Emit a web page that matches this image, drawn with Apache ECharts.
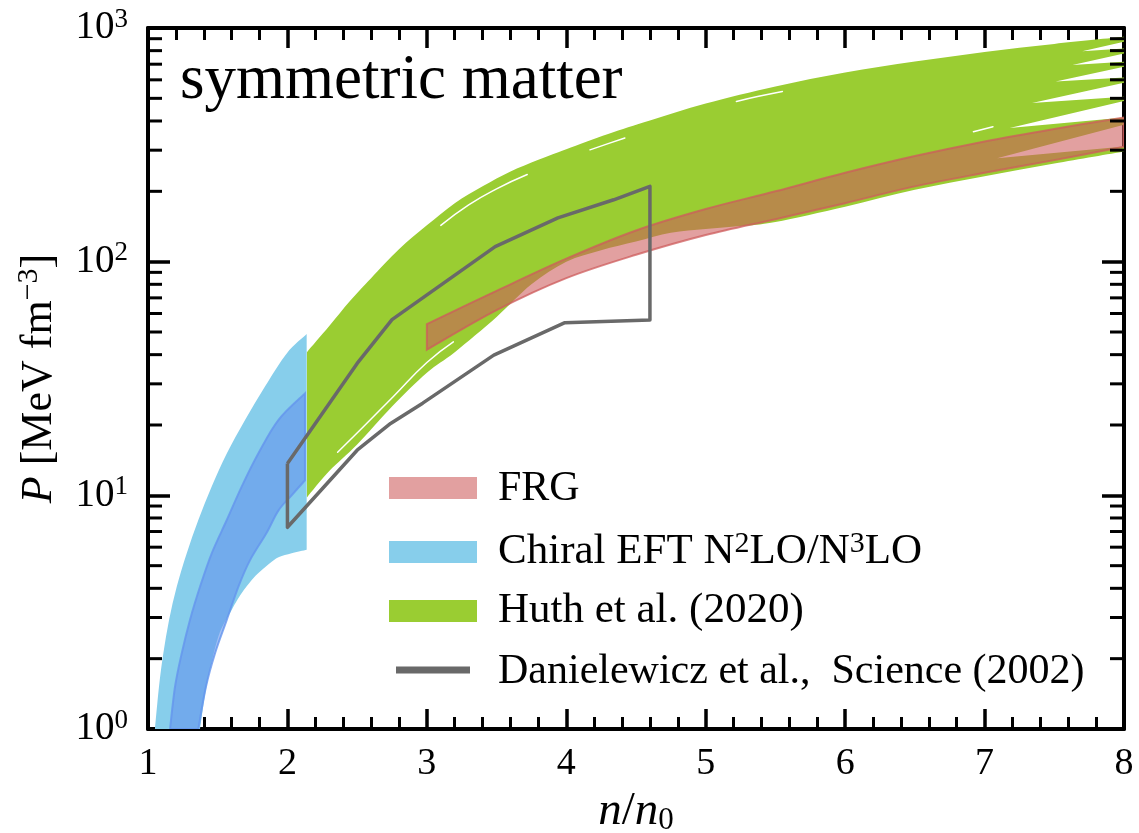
<!DOCTYPE html>
<html>
<head>
<meta charset="utf-8">
<script src="https://cdn.jsdelivr.net/npm/echarts@6/dist/echarts.min.js"></script>
<style>
  html, body { margin: 0; padding: 0; background: #ffffff; }
  #chart { width: 1139px; height: 833px; }
</style>
</head>
<body>
<div id="chart"></div>
<script>
// ---- axis ticks ----
const xTickValues = [1, 2, 3, 4, 5, 6, 7, 8];
const yMinorTicks = [2, 3, 4, 5, 6, 7, 8, 9, 20, 30, 40, 50, 60, 70, 80, 90,
                     200, 300, 400, 500, 600, 700, 800, 900];

// ---- Chiral EFT N2LO/N3LO: outer band [n/n0, P] ----
const chiralOuterUpper = [[1.05, 1.0], [1.079, 1.52], [1.11, 2.11], [1.151, 2.93], [1.206, 4.06],
  [1.278, 5.65], [1.361, 7.84], [1.457, 10.9], [1.565, 15.1], [1.696, 21], [1.839, 29.2],
  [1.995, 40.5], [2.138, 49]];
const chiralOuterLower = [[1.373, 1.0], [1.42, 1.52], [1.504, 2.48], [1.6, 3.23], [1.67, 3.8],
  [1.744, 4.34], [1.8, 4.7], [1.887, 5.2], [1.94, 5.45], [2.03, 5.65], [2.138, 5.85]];

// ---- Chiral EFT: inner band ----
const chiralInnerUpper = [[1.158, 1.0], [1.194, 1.52], [1.242, 2.11], [1.301, 2.93], [1.373, 4.06],
  [1.457, 5.65], [1.565, 7.84], [1.672, 10.9], [1.791, 15.1], [1.935, 21], [2.126, 27.3]];
const chiralInnerLower = [[1.361, 1.0], [1.416, 1.52], [1.481, 2.11], [1.565, 2.93], [1.648, 4.06],
  [1.732, 5.28], [1.85, 6.9], [1.935, 8.6], [2.03, 10.0], [2.126, 11.6]];

// ---- Huth et al. (2020) ----
const huthUpper = [[2.14, 41], [2.3, 53], [2.45, 68], [2.6, 85], [2.8, 113], [3.0, 143],
  [3.2, 178], [3.4, 210], [3.6, 243], [3.8, 273], [4.0, 303], [4.3, 352], [4.6, 402],
  [5.0, 475], [5.5, 562], [6.0, 645], [6.5, 718], [7.0, 790], [7.5, 855], [8.0, 917]];
// jagged ends of the individual curves at n/n0 = 8
const huthRightEnds = [[8, 873], [7.70, 795], [8, 817], [8, 778], [7.63, 695], [8, 717],
  [8, 682], [7.51, 590], [8, 614], [8, 583], [7.34, 477], [8, 508], [8, 487], [7.18, 373],
  [8, 414], [8, 385], [7.09, 277], [8, 311]];
const huthLower = [[2.14, 9.8], [2.3, 12.7], [2.5, 16.5], [2.75, 24], [3.0, 33.5], [3.2, 41],
  [3.5, 58], [3.75, 80], [4.0, 100], [4.25, 112], [4.5, 122], [4.75, 133], [5.0, 138],
  [5.25, 142], [5.5, 148], [6.0, 172], [6.5, 203], [7.0, 232], [7.5, 263], [8.0, 296]];
// thin gaps between neighbouring curves
const huthGaps = [
  [[2.36, 15.3], [2.55, 19.8], [2.76, 26.5], [3.0, 37], [3.19, 45.4]],
  [[3.1, 143], [3.3, 175], [3.5, 205], [3.72, 236]],
  [[4.17, 301], [4.3, 320], [4.42, 338]],
  [[5.22, 485], [5.38, 510], [5.55, 535]],
  [[6.92, 360], [7.06, 378]]
];

// ---- FRG ----
const frgUpper = [[3, 54], [3.5, 75], [4, 103], [4.5, 136], [5, 168], [5.5, 200], [6, 240],
  [6.5, 283], [7, 327], [7.5, 370], [8, 414]];
const frgLower = [[3, 42], [3.5, 62], [4, 85], [4.5, 107], [5, 130], [5.5, 152], [6, 178],
  [6.5, 210], [7, 240], [7.5, 272], [8, 310]];

// ---- Danielewicz et al., Science (2002): flow constraint contour ----
const danielewicz = [[2.0, 13.7], [2.5, 36.7], [2.75, 56.5], [3.49, 116], [3.94, 154],
  [4.34, 184], [4.6, 210], [4.6, 56.3], [3.99, 54.8], [3.48, 39.8], [2.97, 24.8],
  [2.74, 20.3], [2.5, 15.6], [2.0, 7.3], [2.0, 13.7]];

// ---- colours ----
const GREEN = '#9ACD32';
const SKY = '#87CEEB';
const INNER_BLUE = 'rgba(100,149,237,0.6)';
const FRG_FILL = 'rgba(205,92,92,0.58)';
const FRG_EDGE = 'rgba(205,92,92,0.75)';
const GREY = '#696969';

const SERIF = '"Liberation Serif", "DejaVu Serif", serif';

// Catmull-Rom curve through pixel points, as cubic Bezier path commands
function curveCommands(P) {
  let d = '';
  for (let i = 0; i < P.length - 1; i++) {
    const p0 = P[i - 1] || P[i], p1 = P[i], p2 = P[i + 1], p3 = P[i + 2] || P[i + 1];
    const c1x = p1[0] + (p2[0] - p0[0]) / 6, c1y = p1[1] + (p2[1] - p0[1]) / 6;
    const c2x = p2[0] - (p3[0] - p1[0]) / 6, c2y = p2[1] - (p3[1] - p1[1]) / 6;
    d += 'C' + c1x + ',' + c1y + ' ' + c2x + ',' + c2y + ' ' + p2[0] + ',' + p2[1];
  }
  return d;
}

// band: smooth upper edge (left to right), straight right-end segments, smooth lower edge back
function bandSeries(name, upper, right, lower, style, z) {
  return {
    type: 'custom',
    name: name,
    coordinateSystem: 'cartesian2d',
    xAxisIndex: 0,
    yAxisIndex: 0,
    clip: true,
    silent: true,
    z: z,
    data: [upper[0]],
    renderItem: function (params, api) {
      const U = upper.map(function (p) { return api.coord(p); });
      const R = right.map(function (p) { return api.coord(p); });
      const L = lower.slice().reverse().map(function (p) { return api.coord(p); });
      let d = 'M' + U[0][0] + ',' + U[0][1] + curveCommands(U);
      R.forEach(function (p) { d += 'L' + p[0] + ',' + p[1]; });
      d += 'L' + L[0][0] + ',' + L[0][1] + curveCommands(L) + 'Z';
      return { type: 'path', shape: { pathData: d }, style: style };
    }
  };
}

const series = [
  bandSeries('Chiral EFT', chiralOuterUpper, [], chiralOuterLower, { fill: SKY }, 2),
  bandSeries('Chiral EFT inner', chiralInnerUpper, [], chiralInnerLower,
    { fill: INNER_BLUE, stroke: 'rgba(100,149,237,0.8)', lineWidth: 2 }, 3),
  bandSeries('Huth et al. (2020)', huthUpper, huthRightEnds, huthLower, { fill: GREEN }, 4)
];

huthGaps.forEach(function (g, i) {
  series.push({
    type: 'line', name: 'gap' + i, data: g, smooth: true, showSymbol: false, silent: true,
    xAxisIndex: 0, yAxisIndex: 0, z: 5,
    lineStyle: { color: '#ffffff', width: 1.5, cap: 'round' }
  });
});

series.push(bandSeries('FRG', frgUpper, [], frgLower,
  { fill: FRG_FILL, stroke: FRG_EDGE, lineWidth: 2 }, 6));

series.push({
  type: 'line', name: 'Danielewicz et al., Science (2002)', data: danielewicz,
  showSymbol: false, silent: true, xAxisIndex: 0, yAxisIndex: 0, z: 8,
  lineStyle: { color: GREY, width: 3.5, join: 'round' }
});

// log-spaced minor ticks on the left and right frame edges
series.push({
  type: 'custom', name: 'yMinor', coordinateSystem: 'cartesian2d',
  xAxisIndex: 0, yAxisIndex: 0, clip: false, silent: true, z: 20,
  data: yMinorTicks.map(function (v) { return [1, v]; }),
  renderItem: function (params, api) {
    const v = api.value(1);
    const l = api.coord([1, v]);
    const r = api.coord([8, v]);
    const st = { stroke: '#000', lineWidth: 3 };
    return {
      type: 'group',
      children: [
        { type: 'line', shape: { x1: l[0], y1: l[1], x2: l[0] + 14, y2: l[1] }, style: st },
        { type: 'line', shape: { x1: r[0], y1: r[1], x2: r[0] - 14, y2: r[1] }, style: st }
      ]
    };
  }
});

const xAxisBase = {
  type: 'value', min: 1, max: 8, interval: 1,
  axisLine: { show: true, onZero: false, lineStyle: { color: '#000', width: 4 } },
  axisTick: { show: true, inside: true, length: 20, lineStyle: { color: '#000', width: 3.5 } },
  minorTick: { show: true, splitNumber: 5, length: 12, lineStyle: { color: '#000', width: 3 } },
  splitLine: { show: false }
};

const yAxisBase = {
  type: 'log', logBase: 10, min: 1, max: 1000,
  axisLine: { show: true, onZero: false, lineStyle: { color: '#000', width: 4 } },
  axisTick: { show: true, inside: true, length: 22, lineStyle: { color: '#000', width: 3.5 } },
  minorTick: { show: false },
  splitLine: { show: false }
};

const option = {
  backgroundColor: '#ffffff',
  animation: false,
  grid: { left: 148, right: 15, top: 28, bottom: 104, containLabel: false, outerBoundsMode: 'none' },
  xAxis: [
    Object.assign({}, xAxisBase, {
      position: 'bottom',
      name: '{i|n}{r|/}{i|n}{sub|0}',
      nameLocation: 'middle',
      nameGap: 56,
      nameTextStyle: {
        rich: {
          i: { fontFamily: SERIF, fontStyle: 'italic', fontSize: 47, lineHeight: 50, color: '#000' },
          r: { fontFamily: SERIF, fontSize: 47, lineHeight: 50, color: '#000' },
          sub: { fontFamily: SERIF, fontSize: 31, lineHeight: 30, verticalAlign: 'bottom', color: '#000' }
        }
      },
      axisLabel: {
        show: true, margin: 16, color: '#000', fontFamily: SERIF, fontSize: 38,
        formatter: function (v) { return xTickValues.indexOf(v) >= 0 ? String(v) : ''; }
      }
    }),
    Object.assign({}, xAxisBase, { position: 'top', axisLabel: { show: false } })
  ],
  yAxis: [
    Object.assign({}, yAxisBase, {
      position: 'left',
      name: '{i|P} [MeV fm{sup|\u22123}]',
      nameLocation: 'middle',
      nameRotate: 90,
      nameGap: 80,
      nameTextStyle: {
        rich: {
          i: { fontFamily: SERIF, fontStyle: 'italic', fontSize: 44, lineHeight: 50, color: '#000' },
          sup: { fontFamily: SERIF, fontSize: 30, lineHeight: 34, verticalAlign: 'top', color: '#000' }
        },
        fontFamily: SERIF, fontSize: 44, lineHeight: 50, color: '#000'
      },
      axisLabel: {
        show: true, margin: 20,
        formatter: function (v) {
          const e = Math.round(Math.log10(v));
          return '{b|10}{s|' + e + '}';
        },
        rich: {
          b: { fontFamily: SERIF, fontSize: 39, lineHeight: 44, color: '#000' },
          s: { fontFamily: SERIF, fontSize: 27, lineHeight: 32, verticalAlign: 'top', color: '#000' }
        }
      }
    }),
    Object.assign({}, yAxisBase, { position: 'right', axisLabel: { show: false } })
  ],
  graphic: [
    {
      type: 'text', left: 180, top: 50, z: 30,
      style: { text: 'symmetric matter', font: '63px ' + SERIF, fill: '#000' }
    },
    // legend
    { type: 'rect', shape: { x: 389, y: 477, width: 88, height: 22 }, style: { fill: FRG_FILL }, z: 30 },
    { type: 'rect', shape: { x: 389, y: 541, width: 88, height: 22 }, style: { fill: SKY }, z: 30 },
    { type: 'rect', shape: { x: 389, y: 600, width: 88, height: 22 }, style: { fill: GREEN }, z: 30 },
    { type: 'rect', shape: { x: 396, y: 666.5, width: 74, height: 7 }, style: { fill: GREY }, z: 30 },
    {
      type: 'text', x: 498, y: 489, z: 30,
      style: { text: 'FRG', font: '42px ' + SERIF, fill: '#000', verticalAlign: 'middle' }
    },
    {
      type: 'text', x: 498, y: 552, z: 30,
      style: {
        text: '{b|Chiral EFT N}{s|2}{b|LO/N}{s|3}{b|LO}', verticalAlign: 'middle',
        rich: {
          b: { fontFamily: SERIF, fontSize: 43, lineHeight: 46, fill: '#000' },
          s: { fontFamily: SERIF, fontSize: 30, lineHeight: 32, verticalAlign: 'top', fill: '#000' }
        }
      }
    },
    {
      type: 'text', x: 498, y: 611, z: 30,
      style: { text: 'Huth et al. (2020)', font: '43px ' + SERIF, fill: '#000', verticalAlign: 'middle' }
    },
    {
      type: 'text', x: 498, y: 672, z: 30,
      style: { text: 'Danielewicz et al.,  Science (2002)', font: '42px ' + SERIF, fill: '#000', verticalAlign: 'middle' }
    }
  ],
  series: series
};

const chart = echarts.init(document.getElementById('chart'), null, { renderer: 'canvas' });
chart.setOption(option);
</script>
</body>
</html>
